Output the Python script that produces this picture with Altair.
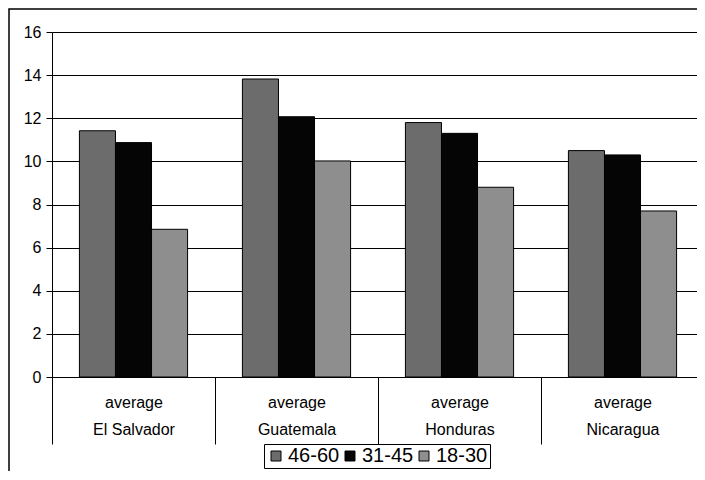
import altair as alt
import pandas as pd

countries = ["El Salvador", "Guatemala", "Honduras", "Nicaragua"]
series = ["46-60", "31-45", "18-30"]
v_46_60 = [11.42, 13.82, 11.8, 10.5]
v_31_45 = [10.87, 12.07, 11.3, 10.3]
v_18_30 = [6.85, 10.02, 8.8, 7.7]
colors = ["#6c6c6c", "#050505", "#8e8e8e"]
y_ticks = [0, 2, 4, 6, 8, 10, 12, 14, 16]

rows = []
for s, vals in zip(series, [v_46_60, v_31_45, v_18_30]):
    for c, v in zip(countries, vals):
        rows.append({"country": c, "group": s, "value": v})
df = pd.DataFrame(rows)

FONT = "Liberation Sans"
label_expr = ("indexof(" + str(countries) + ", datum.label) >= 0 ? "
              "['average', datum.label] : ''")

frame = alt.Chart(pd.DataFrame({"a": [0]})).mark_rect(
    fillOpacity=0, stroke="black", strokeWidth=1.5
).encode(x=alt.value(-43), x2=alt.value(800), y=alt.value(-23), y2=alt.value(600))

bars = alt.Chart(df).mark_bar(stroke="black", strokeWidth=1).encode(
    x=alt.X("country:N", sort=countries,
            scale=alt.Scale(paddingInner=0, paddingOuter=0),
            axis=alt.Axis(title=None, labelAngle=0, tickBand="extent", tickSize=67,
                          tickColor="black", domainColor="black", labelFont=FONT,
                          labelFontSize=16, labelColor="black",
                          labelExpr=label_expr,
                          labelLineHeight=27, labelBaseline="top",
                          labelPadding=-50)),
    xOffset=alt.XOffset("group:N", sort=series,
                        scale=alt.Scale(paddingInner=0, paddingOuter=0.76)),
    y=alt.Y("value:Q", scale=alt.Scale(domain=[0, 16], nice=False),
            axis=alt.Axis(title=None, values=y_ticks, grid=True, gridColor="black",
                          gridOpacity=1, gridWidth=1, tickColor="black", tickSize=6,
                          domainColor="black", labelFont=FONT, labelFontSize=16,
                          labelColor="black", labelPadding=5)),
    color=alt.Color("group:N", sort=series,
                    scale=alt.Scale(domain=series, range=colors),
                    legend=alt.Legend(title=None, orient="none", legendX=212, legendY=412,
                                      direction="horizontal", strokeColor="black",
                                      padding=2, symbolType="square", symbolSize=100,
                                      symbolStrokeColor="black", symbolStrokeWidth=1,
                                      labelFont=FONT, labelFontSize=20,
                                      labelColor="black", columnPadding=0,
                                      labelOffset=2, symbolOpacity=1)),
)

chart = alt.layer(frame, bars).properties(
    width=652, height=345,
    autosize=alt.AutoSizeParams(type="none"),
    padding={"left": 44, "top": 24, "right": -7, "bottom": 94},
).configure_view(stroke="black", strokeWidth=1).configure(background="white")

chart.save("out.html", embed_options={"renderer": "svg", "actions": False})
